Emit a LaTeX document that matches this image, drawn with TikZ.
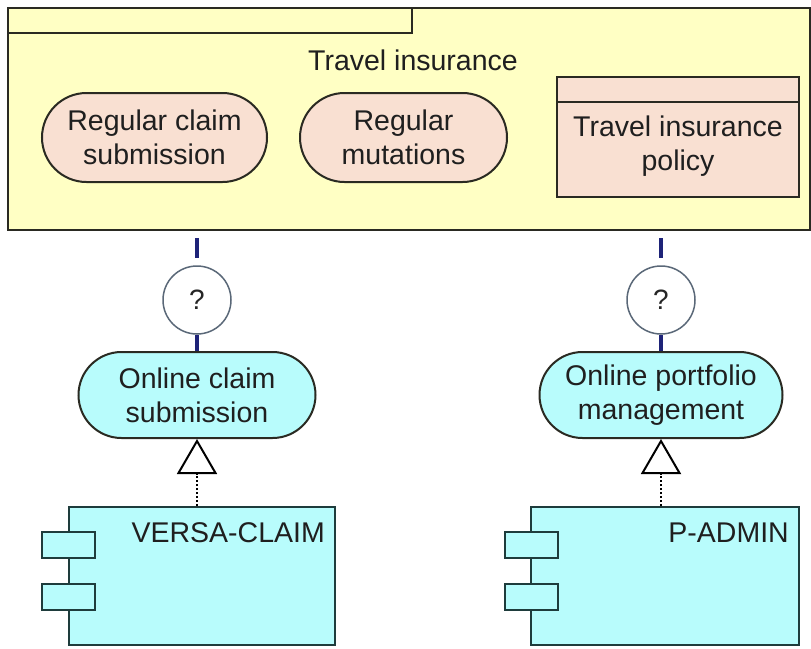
\documentclass[tikz,border=0pt]{standalone}
\usepackage{fontspec}
\setmainfont{Liberation Sans}
\usetikzlibrary{arrows.meta}
\definecolor{bgyellow}{HTML}{FFFFC4}
\definecolor{peach}{HTML}{F9E0D2}
\definecolor{cyanfill}{HTML}{B8FCFC}
\definecolor{outline}{HTML}{2A2A22}
\definecolor{compline}{HTML}{1E3C3C}
\definecolor{connblue}{HTML}{1E2378}
\definecolor{circline}{HTML}{5A6878}
\tikzset{
  txt/.style={font=\fontsize{28.5}{34}\selectfont, align=center, text=black!88},
  pill/.style={draw=outline, line width=2pt, rounded corners=43pt, txt},
  peachpill/.style={pill, fill=peach, minimum height=89pt, rounded corners=44.5pt},
  cyanpill/.style={pill, fill=cyanfill, minimum height=86pt},
  qcircle/.style={circle, draw=circline, line width=1.5pt, fill=white, minimum size=68pt, inner sep=0pt, font=\fontsize{28}{30}\selectfont, text=black!85},
  comp/.style={draw=compline, line width=2pt, fill=cyanfill, minimum height=138pt},
  port/.style={draw=compline, line width=2pt, fill=cyanfill, minimum width=53pt, minimum height=26pt},
  conn/.style={draw=connblue, line width=4pt},
  realize/.style={draw=black, line width=2pt, dotted, -{Triangle[open, width=40pt, length=35pt, line width=2pt]}}
}
\begin{document}
\begin{tikzpicture}[x=1pt, y=-1pt]
\useasboundingbox (0,0) rectangle (811,648);
\fill[white] (0,0) rectangle (811,648);
% outer container
\node[draw=outline, line width=2pt, fill=bgyellow, minimum width=802pt, minimum height=222pt, inner sep=0pt] (ti) at (409,119) {};
\node[draw=outline, line width=2pt, fill=bgyellow, minimum width=404pt, minimum height=25pt, inner sep=0pt] (tab) at (210,20.5) {};
\node[txt, anchor=base] (title) at (413,70) {Travel insurance};
% inner elements
\node[peachpill, minimum width=225pt] (rcs) at (154.5,137.5) {Regular claim\\submission};
\node[peachpill, minimum width=207pt] (rm) at (403.5,137.5) {Regular\\mutations};
\node[draw=outline, line width=2pt, fill=peach, minimum width=242pt, minimum height=120pt, inner sep=0pt] (pol) at (678,137) {};
\draw[draw=outline, line width=2pt] (pol.west |- 0,102) -- (pol.east |- 0,102);
\node[txt] (poltxt) at (678,146) {Travel insurance\\policy};
% left chain
\coordinate (lt) at (197,238);
\node[qcircle] (q1) at (197,300) {?};
\node[cyanpill, minimum width=237pt] (ocs) at (197,395) {Online claim\\submission};
\node[comp, minimum width=266pt] (vc) at (202,576) {};
\node[txt, anchor=base east, inner sep=0pt] (vclbl) at (325,542) {VERSA-CLAIM};
\node[port] (vp1) at (68.5,545) {};
\node[port] (vp2) at (68.5,597) {};
\draw[conn, shorten >=7pt] (lt) -- (q1.north);
\draw[conn] (q1.south) -- (ocs.north);
\draw[realize] (vc.north -| ocs.south) -- (ocs.south);
% right chain
\coordinate (rt) at (661,238);
\node[qcircle] (q2) at (661,300) {?};
\node[cyanpill, minimum width=243pt] (opm) at (661,395) {Online portfolio\\management};
\node[comp, minimum width=268pt] (pa) at (665,576) {};
\node[txt, anchor=base east, inner sep=0pt] (palbl) at (789,542) {P-ADMIN};
\node[port] (pp1) at (531.5,545) {};
\node[port] (pp2) at (531.5,597) {};
\draw[conn, shorten >=7pt] (rt) -- (q2.north);
\draw[conn] (q2.south) -- (opm.north);
\draw[realize] (pa.north -| opm.south) -- (opm.south);
\end{tikzpicture}
\end{document}
